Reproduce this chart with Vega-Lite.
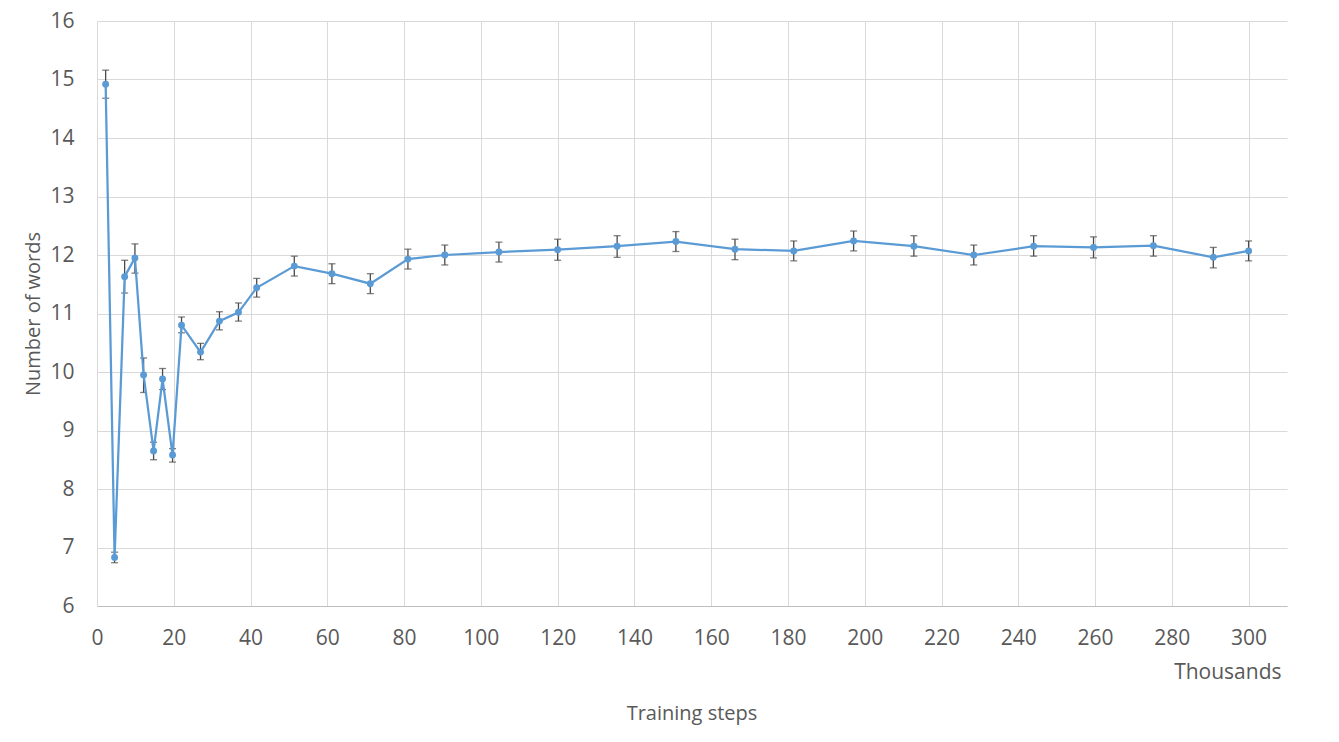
{
  "$schema": "https://vega.github.io/schema/vega-lite/v6.json",
  "width": 1190,
  "height": 585,
  "autosize": {"type": "none"},
  "padding": {"left": 97, "top": 21, "right": 52, "bottom": 136},
  "background": "white",
  "title": {
    "text": "Training steps",
    "orient": "bottom",
    "anchor": "middle",
    "offset": 22,
    "font": "Open Sans",
    "fontSize": 20,
    "fontWeight": "normal",
    "color": "#595959"
  },
  "config": {
    "view": {"stroke": null},
    "font": "Open Sans"
  },
  "data": {
    "values": [
      {"steps": 2.25, "words": 14.92, "lo": 14.68, "hi": 15.16},
      {"steps": 4.58, "words": 6.83, "lo": 6.74, "hi": 6.92},
      {"steps": 7.2, "words": 11.63, "lo": 11.35, "hi": 11.91},
      {"steps": 9.88, "words": 11.95, "lo": 11.69, "hi": 12.19},
      {"steps": 12.14, "words": 9.95, "lo": 9.65, "hi": 10.24},
      {"steps": 14.74, "words": 8.65, "lo": 8.5, "hi": 8.8},
      {"steps": 17.08, "words": 9.88, "lo": 9.7, "hi": 10.06},
      {"steps": 19.68, "words": 8.58, "lo": 8.46, "hi": 8.69},
      {"steps": 22.02, "words": 10.8, "lo": 10.67, "hi": 10.94},
      {"steps": 26.97, "words": 10.34, "lo": 10.21, "hi": 10.49},
      {"steps": 31.9, "words": 10.87, "lo": 10.72, "hi": 11.03},
      {"steps": 36.85, "words": 11.02, "lo": 10.87, "hi": 11.18},
      {"steps": 41.6, "words": 11.44, "lo": 11.28, "hi": 11.6},
      {"steps": 51.4, "words": 11.81, "lo": 11.64, "hi": 11.98},
      {"steps": 61.2, "words": 11.68, "lo": 11.51, "hi": 11.85},
      {"steps": 71.2, "words": 11.51, "lo": 11.34, "hi": 11.68},
      {"steps": 81.0, "words": 11.93, "lo": 11.76, "hi": 12.1},
      {"steps": 90.6, "words": 12.0, "lo": 11.83, "hi": 12.17},
      {"steps": 104.7, "words": 12.05, "lo": 11.88, "hi": 12.22},
      {"steps": 120.0, "words": 12.09, "lo": 11.91, "hi": 12.27},
      {"steps": 135.5, "words": 12.15, "lo": 11.96, "hi": 12.33},
      {"steps": 150.8, "words": 12.23, "lo": 12.06, "hi": 12.4},
      {"steps": 166.2, "words": 12.1, "lo": 11.92, "hi": 12.27},
      {"steps": 181.5, "words": 12.07, "lo": 11.9, "hi": 12.24},
      {"steps": 197.1, "words": 12.24, "lo": 12.07, "hi": 12.41},
      {"steps": 212.8, "words": 12.15, "lo": 11.98, "hi": 12.33},
      {"steps": 228.4, "words": 12.0, "lo": 11.83, "hi": 12.17},
      {"steps": 244.0, "words": 12.15, "lo": 11.98, "hi": 12.33},
      {"steps": 259.6, "words": 12.13, "lo": 11.95, "hi": 12.31},
      {"steps": 275.2, "words": 12.16, "lo": 11.98, "hi": 12.33},
      {"steps": 290.8, "words": 11.96, "lo": 11.78, "hi": 12.13},
      {"steps": 300.0, "words": 12.07, "lo": 11.9, "hi": 12.24}
    ]
  },
  "encoding": {
    "x": {
      "field": "steps",
      "type": "quantitative",
      "scale": {"domain": [0, 310], "nice": false, "zero": false},
      "axis": {
        "title": "Thousands",
        "titleAnchor": "end",
        "titleAlign": "right",
        "titleFont": "Open Sans",
        "titleFontSize": 21,
        "titleFontWeight": "normal",
        "titleColor": "#595959",
        "titlePadding": 13,
        "titleX": 1184,
        "values": [0, 20, 40, 60, 80, 100, 120, 140, 160, 180, 200, 220, 240, 260, 280, 300],
        "labelFont": "Open Sans",
        "labelFontSize": 21,
        "labelColor": "#595959",
        "labelPadding": 21,
        "ticks": false,
        "domainColor": "#BFBFBF",
        "domainWidth": 1,
        "grid": true,
        "gridColor": "#D9D9D9",
        "gridWidth": 1,
        "labelFlush": false
      }
    },
    "y": {
      "field": "words",
      "type": "quantitative",
      "scale": {"domain": [6, 16], "nice": false, "zero": false},
      "axis": {
        "title": "Number of words",
        "titleFont": "Open Sans",
        "titleFontSize": 20,
        "titleFontWeight": "normal",
        "titleColor": "#595959",
        "titlePadding": 6,
        "values": [6, 7, 8, 9, 10, 11, 12, 13, 14, 15, 16],
        "labelFont": "Open Sans",
        "labelFontSize": 21,
        "labelColor": "#595959",
        "labelPadding": 23,
        "ticks": false,
        "domain": false,
        "grid": true,
        "gridColor": "#D9D9D9",
        "gridWidth": 1,
        "labelFlush": false
      }
    }
  },
  "layer": [
    {
      "mark": {"type": "errorbar", "ticks": {"size": 7, "color": "#4A4A4A", "strokeWidth": 1.3}, "color": "#4A4A4A", "thickness": 1.3},
      "encoding": {
        "y": {"field": "lo", "type": "quantitative"},
        "y2": {"field": "hi"}
      }
    },
    {
      "mark": {"type": "line", "color": "#5B9BD5", "strokeWidth": 2.25},
      "encoding": {}
    },
    {
      "mark": {"type": "point", "filled": true, "color": "#5B9BD5", "size": 48, "opacity": 1},
      "encoding": {}
    }
  ]
}
